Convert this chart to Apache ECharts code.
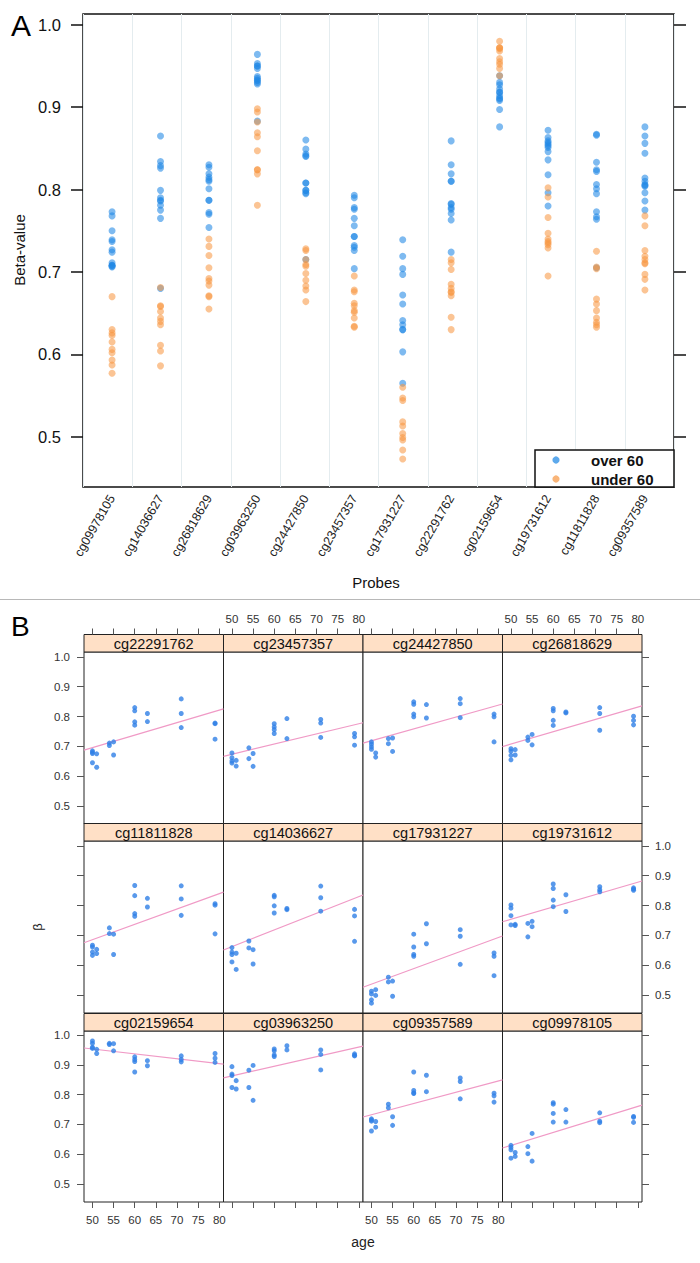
<!DOCTYPE html>
<html><head><meta charset="utf-8">
<script src="https://cdn.jsdelivr.net/npm/echarts@6/dist/echarts.min.js"></script>
<style>html,body{margin:0;padding:0;background:#fff}#c{width:700px;height:1263px}</style>
</head><body><div id="c"></div>
<script>
// ---- data ----
const ages = [50,50,50,50,51,51,54,54,55,55,60,60,60,60,63,63,71,71,71,79,79,79];
const probesA = ['cg09978105','cg14036627','cg26818629','cg03963250','cg24427850','cg23457357','cg17931227','cg22291762','cg02159654','cg19731612','cg11811828','cg09357589'];
const panelOrder = ['cg22291762','cg23457357','cg24427850','cg26818629','cg11811828','cg14036627','cg17931227','cg19731612','cg02159654','cg03963250','cg09357589','cg09978105'];
const yTicksA = [0.5,0.6,0.7,0.8,0.9,1.0];
const xTicksB = [50,55,60,65,70,75,80];
const yTicksB = [0.5,0.6,0.7,0.8,0.9,1.0];
const groupLabels = ['over 60','under 60'];

const cg22291762 = [0.685,0.680,0.676,0.645,0.675,0.630,0.711,0.703,0.715,0.671,0.830,0.819,0.782,0.771,0.810,0.783,0.859,0.810,0.763,0.778,0.776,0.724];
const cg23457357 = [0.678,0.662,0.651,0.644,0.653,0.634,0.695,0.659,0.676,0.633,0.776,0.765,0.756,0.743,0.793,0.726,0.790,0.778,0.730,0.743,0.732,0.704];
const cg24427850 = [0.715,0.707,0.698,0.690,0.678,0.664,0.726,0.709,0.728,0.683,0.849,0.841,0.808,0.799,0.840,0.795,0.860,0.843,0.796,0.808,0.799,0.715];
const cg26818629 = [0.692,0.684,0.670,0.655,0.689,0.671,0.731,0.720,0.740,0.705,0.827,0.819,0.787,0.770,0.815,0.812,0.830,0.810,0.754,0.801,0.787,0.772];
const cg11811828 = [0.667,0.661,0.644,0.633,0.653,0.639,0.725,0.706,0.704,0.636,0.867,0.833,0.773,0.764,0.824,0.795,0.866,0.822,0.767,0.806,0.801,0.705];
const cg14036627 = [0.659,0.644,0.636,0.611,0.640,0.586,0.681,0.658,0.652,0.604,0.834,0.829,0.799,0.775,0.790,0.786,0.865,0.826,0.781,0.787,0.765,0.680];
const cg17931227 = [0.513,0.504,0.484,0.473,0.518,0.499,0.560,0.544,0.547,0.496,0.704,0.661,0.636,0.630,0.739,0.672,0.719,0.697,0.603,0.641,0.630,0.565];
const cg19731612 = [0.802,0.791,0.766,0.735,0.737,0.733,0.740,0.695,0.747,0.729,0.872,0.857,0.818,0.796,0.836,0.780,0.863,0.853,0.846,0.859,0.855,0.851];
const cg02159654 = [0.980,0.972,0.959,0.955,0.952,0.938,0.972,0.968,0.971,0.947,0.927,0.918,0.911,0.876,0.914,0.897,0.930,0.918,0.910,0.938,0.922,0.908];
const cg03963250 = [0.894,0.869,0.864,0.824,0.847,0.819,0.882,0.824,0.898,0.781,0.953,0.947,0.933,0.928,0.964,0.950,0.950,0.935,0.883,0.937,0.932,0.930];
const cg09357589 = [0.719,0.715,0.711,0.678,0.710,0.691,0.768,0.756,0.726,0.697,0.876,0.814,0.806,0.804,0.865,0.810,0.856,0.844,0.786,0.805,0.796,0.775];
const cg09978105 = [0.630,0.623,0.615,0.587,0.606,0.593,0.626,0.602,0.670,0.577,0.773,0.768,0.737,0.708,0.750,0.708,0.739,0.711,0.706,0.727,0.724,0.707];

const beta = {cg22291762,cg23457357,cg24427850,cg26818629,cg11811828,cg14036627,cg17931227,cg19731612,cg02159654,cg03963250,cg09357589,cg09978105};

// ---- layout ----
const FONT = '"Liberation Sans", Arial, sans-serif';
const colLeft = [84, 223.5, 363, 502.5], colW = 139.5;
const rowTop = [652, 841, 1031], rowH = [172, 172, 171];
const rowMax = [1.016, 1.016, 1.0135];
const stripH = 17.5;
const xMinB = 48, xMaxB = 81;

function fit(xs, ys){
  const n = xs.length; let mx=0,my=0;
  for(let i=0;i<n;i++){mx+=xs[i];my+=ys[i];}
  mx/=n; my/=n; let sxy=0,sxx=0;
  for(let i=0;i<n;i++){sxy+=(xs[i]-mx)*(ys[i]-my);sxx+=(xs[i]-mx)*(xs[i]-mx);}
  const b = sxy/sxx; return {a: my-b*mx, b};
}

const grids = [], xAxes = [], yAxes = [], series = [], graphics = [];

// Panel A
grids.push({left:83, top:14, width:591, height:473, show:true, borderColor:'#111', borderWidth:1.5, backgroundColor:'#fff'});
xAxes.push({gridIndex:0, type:'value', min:0.4, max:12.6, position:'bottom',
  axisLine:{show:false}, axisTick:{show:false}, splitLine:{show:false},
  axisLabel:{customValues:probesA.map((p,i)=>i+1), formatter:v=>probesA[Math.round(v)-1], rotate:60, margin:9, fontSize:12.5, color:'#222', fontFamily:FONT}});
xAxes.push({gridIndex:0, type:'category', data:probesA, boundaryGap:true, position:'bottom',
  axisLine:{show:false}, axisTick:{show:false, interval:0}, axisLabel:{show:false, interval:0},
  splitLine:{show:true, interval:0, lineStyle:{color:'#e4ecef', width:1}}});
yAxes.push({gridIndex:0, type:'value', min:0.439, max:1.013, position:'left',
  axisLine:{show:false}, splitLine:{show:false},
  axisTick:{show:true, customValues:yTicksA, length:12, lineStyle:{color:'#111', width:1.5}},
  axisLabel:{customValues:yTicksA, formatter:v=>v.toFixed(1), margin:22, fontSize:16.5, color:'#111', fontFamily:FONT}});
yAxes.push({gridIndex:0, type:'value', min:0.439, max:1.013, position:'right',
  axisLine:{show:false}, splitLine:{show:false},
  axisTick:{show:true, customValues:yTicksA, length:12, lineStyle:{color:'#111', width:1.5}},
  axisLabel:{show:false}});

const over = [], under = [];
probesA.forEach((p,i)=>{
  beta[p].forEach((v,j)=>{ (ages[j] >= 60 ? over : under).push([i+1, v]); });
});
series.push({name:groupLabels[0], type:'scatter', xAxisIndex:0, yAxisIndex:0, data:over, symbolSize:7,
  itemStyle:{color:'rgba(31,136,229,0.72)'}, silent:true});
series.push({name:groupLabels[1], type:'scatter', xAxisIndex:0, yAxisIndex:0, data:under, symbolSize:7,
  itemStyle:{color:'rgba(247,149,64,0.70)'}, silent:true});

// Panel B
panelOrder.forEach((p,i)=>{
  const r = Math.floor(i/4), c = i%4, g = i+1;
  grids.push({left:colLeft[c], top:rowTop[r], width:colW, height:rowH[r], show:true, borderColor:'#222', borderWidth:1, backgroundColor:'#fff'});
  const xi = xAxes.length, yi = yAxes.length;
  xAxes.push({gridIndex:g, type:'value', min:xMinB, max:xMaxB, position:'bottom', show: r===2,
    axisLine:{show:false}, splitLine:{show:false},
    axisTick:{show:true, customValues:xTicksB, length:6, lineStyle:{color:'#555'}},
    axisLabel:{show: c%2===0, customValues:xTicksB, margin:12, fontSize:11.5, color:'#333', fontFamily:FONT}});
  xAxes.push({gridIndex:g, type:'value', min:xMinB, max:xMaxB, position:'top', offset:stripH, show: r===0,
    axisLine:{show:false}, splitLine:{show:false},
    axisTick:{show:true, customValues:xTicksB, length:6, lineStyle:{color:'#555'}},
    axisLabel:{show: c%2===1, customValues:xTicksB, margin:10, fontSize:11.5, color:'#333', fontFamily:FONT}});
  yAxes.push({gridIndex:g, type:'value', min:0.44, max:rowMax[r], position:'left', show: c===0,
    axisLine:{show:false}, splitLine:{show:false},
    axisTick:{show:true, customValues:yTicksB, length:7, lineStyle:{color:'#555'}},
    axisLabel:{show: r!==1, customValues:yTicksB, formatter:v=>v.toFixed(1), margin:14, fontSize:11.5, color:'#333', fontFamily:FONT}});
  yAxes.push({gridIndex:g, type:'value', min:0.44, max:rowMax[r], position:'right', show: c===3,
    axisLine:{show:false}, splitLine:{show:false},
    axisTick:{show:true, customValues:yTicksB, length:7, lineStyle:{color:'#555'}},
    axisLabel:{show: r===1, customValues:yTicksB, formatter:v=>v.toFixed(1), margin:13, fontSize:11.5, color:'#333', fontFamily:FONT}});
  const vals = beta[p];
  const f = fit(ages, vals);
  series.push({type:'line', xAxisIndex:xi, yAxisIndex:yi, data:[[xMinB, f.a+f.b*xMinB],[xMaxB, f.a+f.b*xMaxB]],
    symbol:'none', lineStyle:{color:'#f09ac6', width:1.2}, silent:true, z:1});
  series.push({type:'scatter', xAxisIndex:xi, yAxisIndex:yi, data:ages.map((a,j)=>[a, vals[j]]), symbolSize:5,
    itemStyle:{color:'#2f7fe6'}, silent:true, z:2});
  // strip
  graphics.push({type:'rect', shape:{x:colLeft[c], y:rowTop[r]-stripH, width:colW, height:stripH},
    style:{fill:'#ffe0c6', stroke:'#222', lineWidth:1}});
  graphics.push({type:'text', x:colLeft[c]+colW/2, y:rowTop[r]-stripH/2+0.5,
    style:{text:p, font:'14.5px '+FONT, fill:'#111', textAlign:'center', textVerticalAlign:'middle'}});
});

// text & decorations
graphics.push({type:'text', x:11, y:25, style:{text:'A', font:'30px '+FONT, fill:'#000', textAlign:'left', textVerticalAlign:'middle'}});
graphics.push({type:'text', x:11, y:626, style:{text:'B', font:'28px '+FONT, fill:'#000', textAlign:'left', textVerticalAlign:'middle'}});
graphics.push({type:'text', x:19, y:250, rotation:Math.PI/2, style:{text:'Beta-value', font:'15px '+FONT, fill:'#111', textAlign:'center', textVerticalAlign:'middle'}});
graphics.push({type:'text', x:376, y:582, style:{text:'Probes', font:'15px '+FONT, fill:'#111', textAlign:'center', textVerticalAlign:'middle'}});
graphics.push({type:'line', shape:{x1:0, y1:599.5, x2:700, y2:599.5}, style:{stroke:'#b8b8b8', lineWidth:1}});
graphics.push({type:'text', x:37, y:927, rotation:Math.PI/2, style:{text:'β', font:'13px '+FONT, fill:'#222', textAlign:'center', textVerticalAlign:'middle'}});
graphics.push({type:'text', x:363, y:1242, style:{text:'age', font:'14px '+FONT, fill:'#222', textAlign:'center', textVerticalAlign:'middle'}});
// legend
graphics.push({type:'rect', shape:{x:535, y:450, width:139, height:37}, style:{fill:'#fff', stroke:'#111', lineWidth:1.5}, z:10});
graphics.push({type:'circle', shape:{cx:556, cy:460, r:3.6}, style:{fill:'rgba(31,136,229,0.72)'}, z:11});
graphics.push({type:'circle', shape:{cx:556, cy:479, r:3.6}, style:{fill:'rgba(247,149,64,0.70)'}, z:11});
graphics.push({type:'text', x:591, y:460, style:{text:groupLabels[0], font:'bold 15px '+FONT, fill:'#111', textAlign:'left', textVerticalAlign:'middle'}, z:11});
graphics.push({type:'text', x:591, y:479, style:{text:groupLabels[1], font:'bold 15px '+FONT, fill:'#111', textAlign:'left', textVerticalAlign:'middle'}, z:11});

const chart = echarts.init(document.getElementById('c'), null, {renderer:'svg'});
chart.setOption({animation:false, backgroundColor:'#fff', grid:grids, xAxis:xAxes, yAxis:yAxes, series, graphic:graphics});
</script></body></html>
